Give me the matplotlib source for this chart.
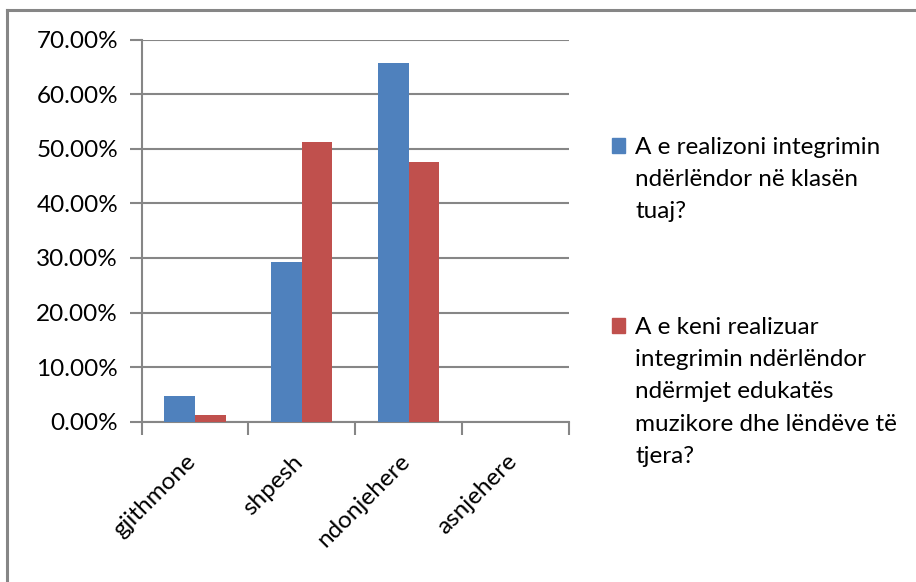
import numpy as np
import matplotlib
matplotlib.use('Agg')
import matplotlib.pyplot as plt
import matplotlib.transforms as mtransforms
from matplotlib.patches import Patch
from matplotlib.lines import Line2D
from matplotlib.ticker import FuncFormatter

categories = ['gjithmone', 'shpesh', 'ndonjehere', 'asnjehere']
series1_lines = ['A e realizoni integrimin', 'ndërlëndor në klasën', 'tuaj?']
series2_lines = ['A e keni realizuar', 'integrimin ndërlëndor', 'ndërmjet edukatës',
                 'muzikore dhe lëndëve të', 'tjera?']
series1 = [4.7, 29.3, 65.8, 0.0]
series2 = [1.2, 51.2, 47.6, 0.0]
yticks = [0, 10, 20, 30, 40, 50, 60, 70]

BLUE = '#4F81BD'
RED = '#C0504D'
GRID = '#868686'

plt.rcParams['font.family'] = ['Lato', 'DejaVu Sans']

fig = plt.figure(figsize=(9.16, 5.82), dpi=100)
ax = fig.add_axes([0.1546, 0.2754, 0.4666, 0.6564])

x = np.arange(len(categories))
w = 0.286
ax.bar(x - w / 2, series1, w, color=BLUE, zorder=3)
ax.bar(x + w / 2, series2, w, color=RED, zorder=3)

ax.set_xlim(-0.5, len(categories) - 0.5)
ax.set_ylim(0, 70)
ax.set_yticks(yticks)
ax.yaxis.set_major_formatter(FuncFormatter(lambda v, p: f'{v:.2f}%'))
ax.tick_params(axis='y', length=9, width=1.5, color=GRID, labelsize=17.5, pad=8)
ax.grid(axis='y', color=GRID, lw=1.5, zorder=0)
ax.set_axisbelow(True)

for s in ['top', 'right']:
    ax.spines[s].set_visible(False)
for s in ['left', 'bottom']:
    ax.spines[s].set_color(GRID)
    ax.spines[s].set_linewidth(1.5)

ax.set_xticks(np.arange(len(categories) + 1) - 0.5)
ax.set_xticklabels([])
ax.tick_params(axis='x', which='major', length=9, width=1.5, color=GRID)
ax.set_xticks(x, minor=True)
ax.set_xticklabels(categories, minor=True, rotation=45, ha='right', va='top', fontsize=17.5)
ax.tick_params(axis='x', which='minor', length=0, pad=21)
shift = mtransforms.ScaledTranslation(5 / 100, 0, fig.dpi_scale_trans)
for lab in ax.get_xticklabels(minor=True):
    lab.set_transform(lab.get_transform() + shift)

# outer chart border (left and top)
fig.add_artist(Line2D([7 / 916, 7 / 916], [0, 1 - 10 / 582], color=GRID, lw=2.2,
                      transform=fig.transFigure, solid_capstyle='projecting'))
fig.add_artist(Line2D([7 / 916, 1], [1 - 10 / 582, 1 - 10 / 582], color=GRID, lw=2.2,
                      transform=fig.transFigure, solid_capstyle='projecting'))

blank = Patch(facecolor='none', edgecolor='none')
common = dict(loc='upper left', frameon=False, handlelength=0.55, handleheight=0.62,
              handletextpad=0.4, labelspacing=0.46, fontsize=17.5, borderpad=0,
              borderaxespad=0)
fig.legend(handles=[Patch(color=BLUE)] + [blank] * (len(series1_lines) - 1),
           labels=series1_lines, bbox_to_anchor=(612 / 916, 1 - 137 / 582), **common)
fig.legend(handles=[Patch(color=RED)] + [blank] * (len(series2_lines) - 1),
           labels=series2_lines, bbox_to_anchor=(612 / 916, 1 - 317 / 582), **common)

fig.savefig('out.png', dpi=100)
